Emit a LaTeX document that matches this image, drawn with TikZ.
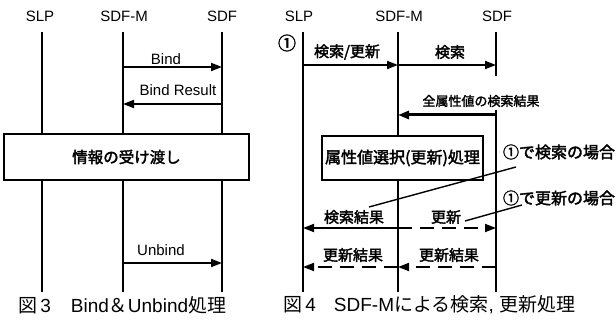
\documentclass[tikz,border=0pt]{standalone}
\usepackage{fontspec}
\setmainfont{Liberation Sans}
\newfontfamily\jp{Noto Sans CJK JP}
\newfontfamily\jpb[FakeBold=2.2]{Noto Sans CJK JP}
\usetikzlibrary{arrows.meta}
\begin{document}
\begin{tikzpicture}[x=1pt,y=-1pt,
  life/.style={line width=2.4pt},
  msg/.style={line width=1.8pt,-{Triangle[length=11pt,width=8pt]}},
  dmsg/.style={msg,dash pattern=on 14pt off 8pt},
  boxn/.style={draw,line width=1.3pt,fill=white,inner sep=0pt},
  lbl/.style={font=\fontsize{15}{15}\selectfont, inner sep=0pt},
  jlbl/.style={font=\fontsize{15}{15}\selectfont\jpb, inner sep=0pt},
  capn/.style={font=\fontsize{19}{19}\selectfont, inner sep=0pt, anchor=west},
  leader/.style={line width=1.4pt},
  ]
\useasboundingbox (0,0) rectangle (616,320);
% ---------- Figure 3 ----------
\node[lbl] (h3a) at (40,16) {SLP};
\node[lbl] (h3b) at (124,16) {SDF-M};
\node[lbl] (h3c) at (222,16) {SDF};
\coordinate (a3t) at (42,32);  \coordinate (a3b) at (42,292);
\coordinate (b3t) at (123,32); \coordinate (b3b) at (123,292);
\coordinate (c3t) at (222,32); \coordinate (c3b) at (222,292);
\draw[life] (a3t) -- (a3b);
\draw[life] (b3t) -- (b3b);
\draw[life] (c3t) -- (c3b);
\node[boxn, minimum width=245pt, minimum height=46pt] (share) at (126.5,157)
  {\fontsize{15.5}{15.5}\selectfont\jpb 情報の受け渡し};
\coordinate (b3m1) at (123,67);  \coordinate (c3m1) at (222,67);
\coordinate (b3m2) at (123,104); \coordinate (c3m2) at (222,104);
\coordinate (b3m3) at (123,263); \coordinate (c3m3) at (222,263);
\draw[msg] (b3m1) -- (c3m1);
\draw[msg] (c3m2) -- (b3m2);
\draw[msg] (b3m3) -- (c3m3);
\node[lbl] (lbind) at (166,59) {Bind};
\node[lbl] (lbres) at (178,90) {Bind Result};
\node[lbl] (lunb) at (161,250) {Unbind};
\node[capn] (cap3) at (18,305) {{\jp 図}\,3\hspace{20pt}Bind{\jp ＆}Unbind{\jp 処理}};
% ---------- Figure 4 ----------
\node[lbl] (h4a) at (299,16) {SLP};
\node[lbl] (h4b) at (399,16) {SDF-M};
\node[lbl] (h4c) at (497,16) {SDF};
\node[font=\fontsize{18}{18}\selectfont\jpb, inner sep=0pt] (one) at (287,43) {①};
\coordinate (p4t) at (303,32); \coordinate (p4b) at (303,292);
\coordinate (q4t) at (398,32); \coordinate (q4b) at (398,292);
\coordinate (r4t) at (496,32); \coordinate (r4u) at (496,76);
\coordinate (r4v) at (496,110); \coordinate (r4b) at (496,292);
\draw[life] (p4t) -- (p4b);
\draw[life] (q4t) -- (q4b);
\draw[life] (r4t) -- (r4u);
\draw[life] (r4v) -- (r4b);
\node[boxn, minimum width=161pt, minimum height=44pt] (sel) at (402.5,158)
  {\fontsize{16}{16}\selectfont\jpb 属性値選択(更新)処理};
\coordinate (p4m1) at (303,65); \coordinate (q4m1) at (398,65); \coordinate (r4m1) at (496,65);
\coordinate (q4m2) at (398,115); \coordinate (r4m2) at (496,115);
\coordinate (p4m3) at (303,228); \coordinate (q4m3) at (398,228); \coordinate (r4m3) at (496,228);
\coordinate (p4m4) at (303,267); \coordinate (q4m4) at (398,267); \coordinate (r4m4) at (496,267);
\draw[msg] (p4m1) -- (q4m1);
\draw[msg] (q4m1) -- (r4m1);
\draw[msg, line width=3pt] (r4m2) -- (q4m2);
\draw[msg] (q4m3) -- (p4m3);
\draw[dmsg] (q4m3) -- (r4m3);
\draw[dmsg] (q4m4) -- (p4m4);
\draw[dmsg] (r4m4) -- (q4m4);
\node[jlbl] (lsu) at (347,52) {検索/更新};
\node[jlbl] (ls) at (450,52) {検索};
\node[jlbl, font=\fontsize{13}{13}\selectfont\jpb] (lall) at (481,101) {全属性値の検索結果};
\node[jlbl] (lsr) at (354,217) {検索結果};
\node[jlbl] (lup) at (446,217) {更新};
\node[jlbl] (lur1) at (353,255) {更新結果};
\node[jlbl] (lur2) at (449,255) {更新結果};
\node[jlbl, font=\fontsize{16}{16}\selectfont\jpb] (cs) at (559,152) {①で検索の場合};
\node[jlbl, font=\fontsize{16}{16}\selectfont\jpb] (cu) at (559,198) {①で更新の場合};
\coordinate (l1a) at (516,167); \coordinate (l1b) at (369,207);
\coordinate (l2a) at (522,205); \coordinate (l2b) at (465,221);
\draw[leader] (l1a) -- (l1b);
\draw[leader] (l2a) -- (l2b);
\node[capn] (cap4) at (283,305) {{\jp 図}\,4\hspace{18pt}SDF-M{\jp による検索}, {\jp 更新処理}};
\end{tikzpicture}
\end{document}
